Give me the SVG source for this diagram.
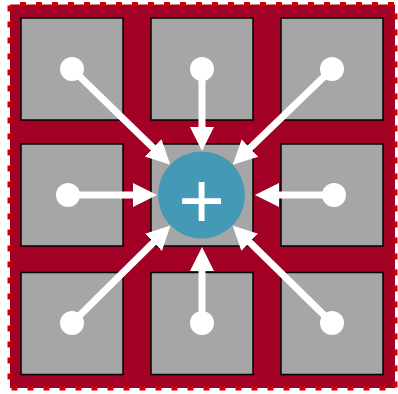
<svg xmlns="http://www.w3.org/2000/svg" width="398" height="394" viewBox="0 0 398 394">
<style>
.frame{fill:#a20025;stroke:#cc0000;stroke-width:5;stroke-dasharray:6 10;stroke-dashoffset:6}
.cell{fill:#a6a6a6;stroke:#000;stroke-width:1.5}
.dot{fill:#fff}
.edge{stroke:#fff;stroke-width:7;fill:none;marker-end:url(#ah)}
.hub{fill:#4499b7}
.lbl{font-family:"Liberation Sans",Arial,sans-serif;font-size:80px;fill:#fff;text-anchor:middle}
</style>
<defs>
<marker id="ah" markerUnits="userSpaceOnUse" markerWidth="26" markerHeight="26" viewBox="0 -13 26 26" refX="1" refY="0" orient="auto">
<path d="M0,-12 L24,0 L0,12 z" fill="#fff"/>
</marker>
</defs>
<rect class="frame" x="10" y="4.5" width="385" height="383.5"/>
<g id="cell-tl"><rect class="cell" x="21" y="18" width="102" height="102"/></g>
<g id="cell-tc"><rect class="cell" x="151" y="18" width="102" height="102"/></g>
<g id="cell-tr"><rect class="cell" x="281" y="18" width="102" height="102"/></g>
<g id="cell-ml"><rect class="cell" x="21" y="144" width="102" height="102"/></g>
<g id="cell-mc"><rect class="cell" x="151" y="144" width="102" height="102"/></g>
<g id="cell-mr"><rect class="cell" x="281" y="144" width="102" height="102"/></g>
<g id="cell-bl"><rect class="cell" x="21" y="272.5" width="102" height="102"/></g>
<g id="cell-bc"><rect class="cell" x="151" y="272.5" width="102" height="102"/></g>
<g id="cell-br"><rect class="cell" x="281" y="272.5" width="102" height="102"/></g>
<g id="connectors">
<line class="edge" x1="72" y1="69" x2="153.8" y2="148.6"/>
<line class="edge" x1="202" y1="69" x2="202" y2="128"/>
<line class="edge" x1="332" y1="69" x2="249.3" y2="148.8"/>
<line class="edge" x1="68" y1="195" x2="134" y2="195"/>
<line class="edge" x1="334" y1="195" x2="278" y2="195"/>
<line class="edge" x1="72" y1="323" x2="154.2" y2="241.7"/>
<line class="edge" x1="202" y1="323" x2="202" y2="270"/>
<line class="edge" x1="332" y1="323" x2="249" y2="241.6"/>
</g>
<g id="src-tl"><circle class="dot" cx="72" cy="69" r="12"/></g>
<g id="src-tc"><circle class="dot" cx="202" cy="69" r="12"/></g>
<g id="src-tr"><circle class="dot" cx="332" cy="69" r="12"/></g>
<g id="src-ml"><circle class="dot" cx="68" cy="195" r="12"/></g>
<g id="src-mr"><circle class="dot" cx="334" cy="195" r="12"/></g>
<g id="src-bl"><circle class="dot" cx="72" cy="323" r="12"/></g>
<g id="src-bc"><circle class="dot" cx="202" cy="323" r="12"/></g>
<g id="src-br"><circle class="dot" cx="332" cy="323" r="12"/></g>
<g id="hub"><circle class="hub" cx="201.5" cy="195" r="43.5"/><text class="lbl" x="201.5" y="228">+</text></g>
</svg>
